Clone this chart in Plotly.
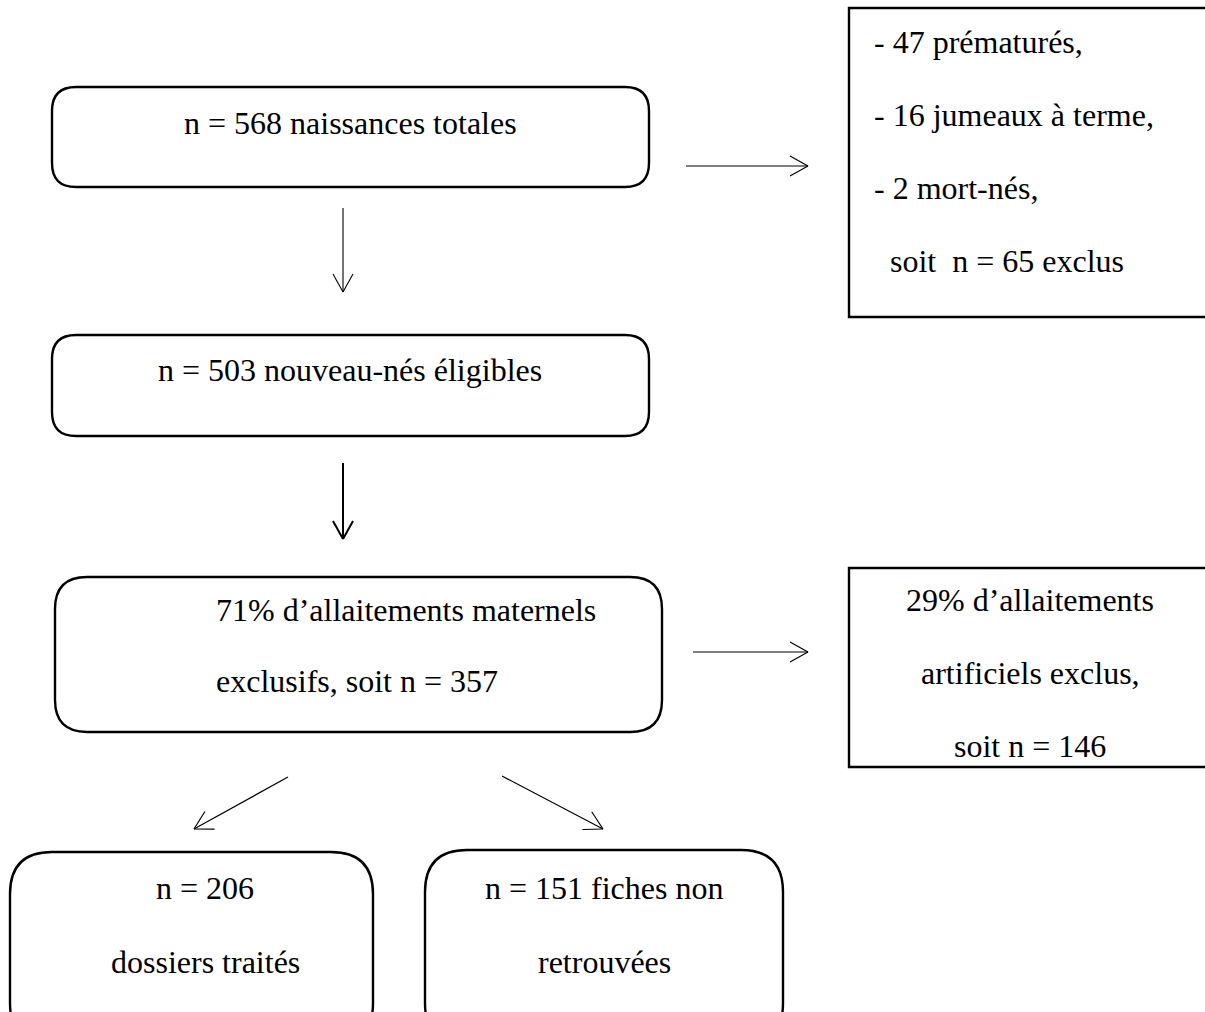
import plotly.graph_objects as go

# ---- content (text of the flow chart) ----
main_labels = [
    ["n = 568 naissances totales"],
    ["n = 503 nouveau-nés éligibles"],
    ["71% d’allaitements maternels", "exclusifs, soit n = 357"],
]
excl_top_lines = ["- 47 prématurés,", "- 16 jumeaux à terme,", "- 2 mort-nés,", "  soit  n = 65 exclus"]
excl_mid_lines = ["29% d’allaitements", "artificiels exclus,", "soit n = 146"]
leaf_labels = [["n = 206", "dossiers traités"], ["n = 151 fiches non", "retrouvées"]]

W, H = 1205, 1012
FONT = dict(family="Liberation Serif, Times New Roman, serif", size=32, color="black")

fig = go.Figure()
shapes = []
annotations = []


def rounded_rect(x0, y0, x1, y1, r, width=2.4):
    p = (f"M {x0+r},{y0} L {x1-r},{y0} Q {x1},{y0} {x1},{y0+r} "
         f"L {x1},{y1-r} Q {x1},{y1} {x1-r},{y1} L {x0+r},{y1} "
         f"Q {x0},{y1} {x0},{y1-r} L {x0},{y0+r} Q {x0},{y0} {x0+r},{y0} Z")
    shapes.append(dict(type="path", path=p, xref="x", yref="y",
                       line=dict(color="black", width=width), fillcolor="rgba(0,0,0,0)"))


def open_rect(x0, y0, y1, width=2.4):
    # box cut by the right edge of the page: only top, left and bottom sides show
    p = f"M {W + 40},{y0} L {x0},{y0} L {x0},{y1} L {W + 40},{y1}"
    shapes.append(dict(type="path", path=p, xref="x", yref="y",
                       line=dict(color="black", width=width), fillcolor="rgba(0,0,0,0)"))


def arrow(x0, y0, x1, y1, width=1.2, back=18, half=10):
    shapes.append(dict(type="line", x0=x0, y0=y0, x1=x1, y1=y1, xref="x", yref="y",
                       line=dict(color="black", width=width)))
    dx, dy = x1 - x0, y1 - y0
    L = (dx * dx + dy * dy) ** 0.5
    ux, uy = dx / L, dy / L
    px, py = -uy, ux
    for s in (1, -1):
        shapes.append(dict(type="line", x0=x1, y0=y1,
                           x1=x1 - back * ux + s * half * px,
                           y1=y1 - back * uy + s * half * py,
                           xref="x", yref="y", line=dict(color="black", width=width)))


def text(x, y, s, anchor="center"):
    annotations.append(dict(x=x, y=y, text=s, showarrow=False, xref="x", yref="y",
                            xanchor=anchor, yanchor="middle", font=FONT))


# ---- boxes ----
rounded_rect(52, 87, 649, 187, 24)
rounded_rect(52, 335, 649, 436, 24)
rounded_rect(55, 577, 662, 732, 32)
rounded_rect(10, 852, 373, 1045, 42)
rounded_rect(425, 850, 783, 1045, 42)
open_rect(849, 8, 317)
open_rect(849, 568, 767)

# ---- arrows ----
arrow(686, 166, 808, 166)
arrow(343, 208, 343, 292, width=1.1)
arrow(343, 463, 343, 539, width=2)
arrow(693, 652, 808, 652)
arrow(288, 777, 194, 829)
arrow(502, 776, 603, 829)

# ---- texts ----
text(350, 123, main_labels[0][0])
text(350, 370, main_labels[1][0])
text(214, 610, main_labels[2][0], anchor="left")
text(214, 681, main_labels[2][1], anchor="left")

for i, s in enumerate(excl_top_lines):
    text(872, 42 + 73 * i, s.replace(" ", "\u00a0"), anchor="left")

for i, s in enumerate(excl_mid_lines):
    text(1030, 600 + 73 * i, s)

for cx, lines in zip([205, 604], leaf_labels):
    for i, s in enumerate(lines):
        text(cx, 888 + 74 * i, s)

fig.update_layout(
    width=W, height=H, margin=dict(l=0, r=0, t=0, b=0),
    paper_bgcolor="white", plot_bgcolor="white",
    xaxis=dict(range=[0, W], visible=False, fixedrange=True),
    yaxis=dict(range=[H, 0], visible=False, fixedrange=True),
    shapes=shapes, annotations=annotations, showlegend=False,
)
fig.write_html(
    "out.html",
    config={"displayModeBar": False},
    post_script="document.body.style.margin='0';document.body.style.overflow='hidden';",
)
